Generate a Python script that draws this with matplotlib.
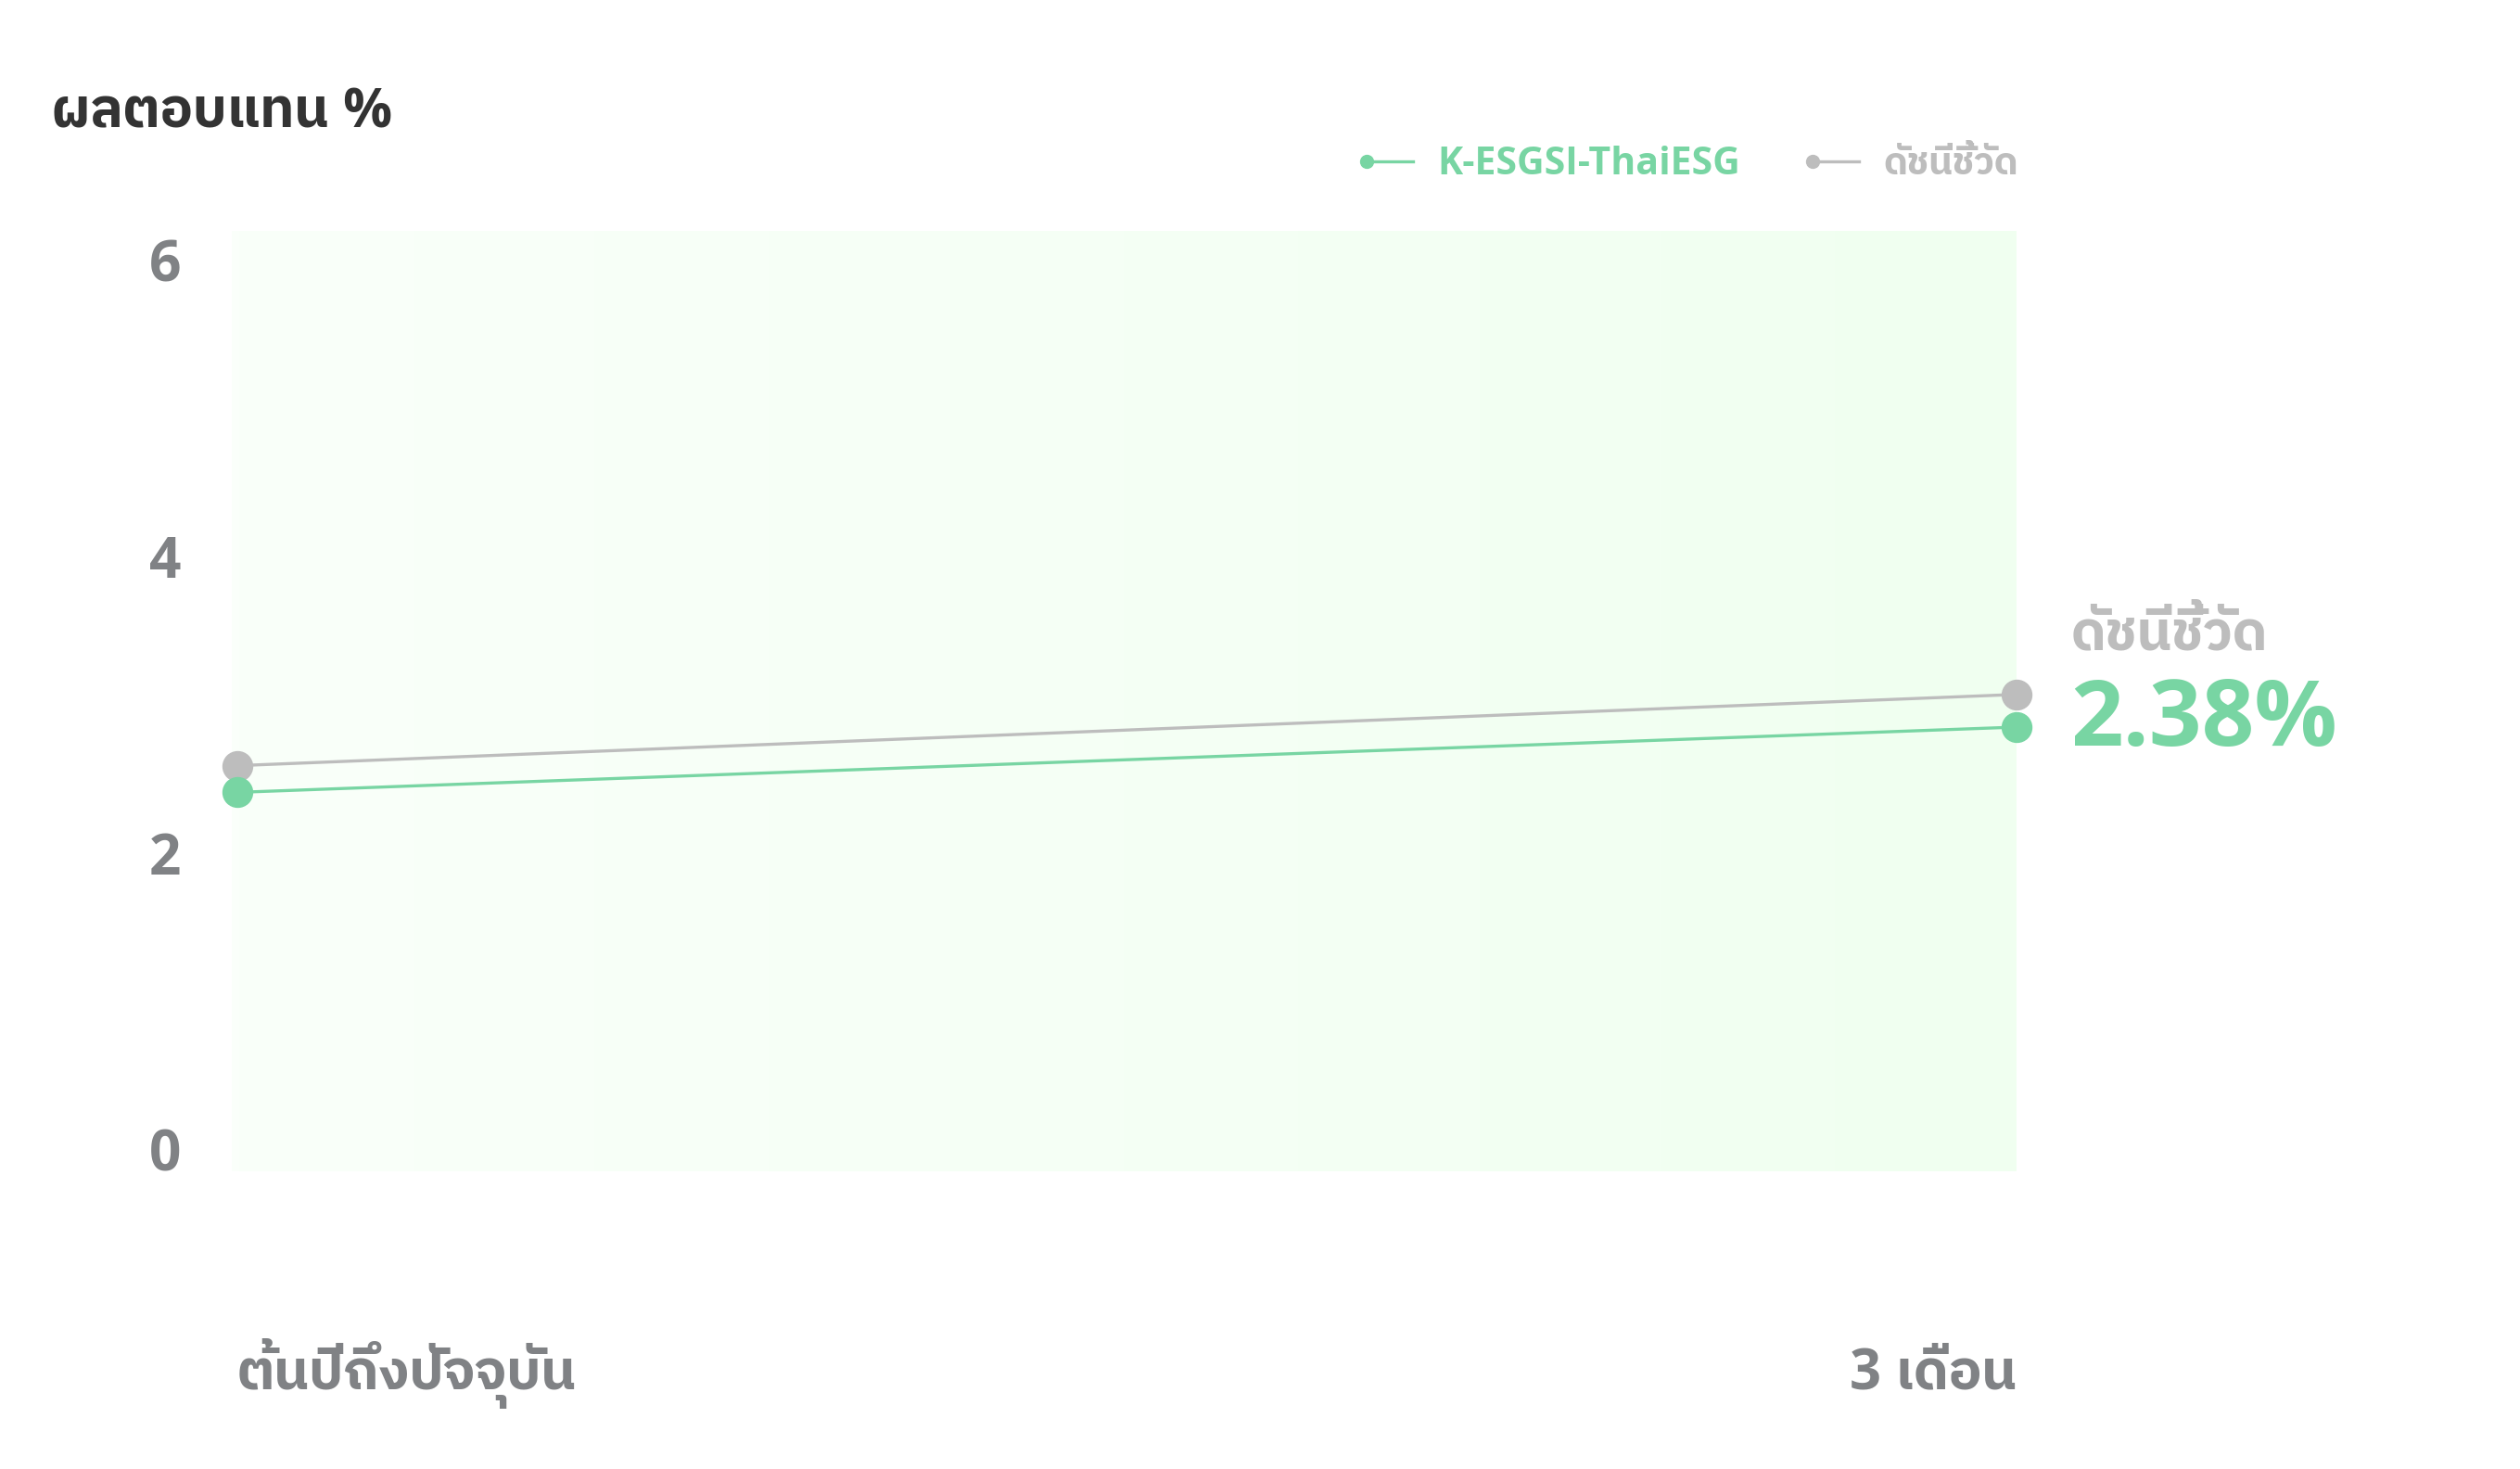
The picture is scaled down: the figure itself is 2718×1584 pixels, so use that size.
import numpy as np
import matplotlib
matplotlib.use("Agg")
import matplotlib.pyplot as plt
from matplotlib import font_manager
from matplotlib.lines import Line2D

W, H = 2718, 1584

periods = ["ต้นปีถึงปัจจุบัน", "3 เดือน"]
fund_returns = [2.41, 2.85]
bench_returns = [2.59, 3.07]
yticks = [0, 2, 4, 6]
fund_name = "K-ESGSI-ThaiESG"
bench_name = "ดัชนีชี้วัด"
title = "ผลตอบแทน %"
highlight = "2.38%"

GREEN = "#78d5a3"
GRAY = "#bdbdbd"
TICK = "#808285"


def pick_bold(candidates):
    # first family that ships a static bold face (variable fonts render as regular)
    for name in candidates:
        for f in font_manager.fontManager.ttflist:
            if (f.name == name and f.style == "normal" and f.weight >= 700
                    and "[" not in f.fname):
                return name
    return None


latin = pick_bold(["Noto Sans", "Open Sans", "Noto Sans Display", "Roboto",
                   "Lato", "Inter"])
thai = pick_bold(["Noto Sans Thai UI", "Noto Sans Thai", "Noto Sans Thai Looped",
                  "IBM Plex Sans Thai", "Sarabun", "Kanit"])
families = [f for f in [latin, thai] if f] + ["DejaVu Sans"]
plt.rcParams["font.family"] = families
plt.rcParams["font.weight"] = "bold"


def px(x, y):
    return x / W, 1 - y / H


fig = plt.figure(figsize=(W / 100, H / 100), dpi=100)
fig.patch.set_facecolor("white")
ax = fig.add_axes([250 / W, 1 - 1263 / H, (2175 - 250) / W, (1263 - 249) / H])

# soft horizontal gradient behind the plot (near white -> honeydew)
grad = np.linspace(0, 1, 256)
left_c = np.array([250, 255, 250]) / 255
right_c = np.array([240, 255, 240]) / 255
img = left_c[None, :] + (right_c - left_c)[None, :] * grad[:, None]
ax.imshow(img[None, :, :], extent=[0, 1, 0, 1], transform=ax.transAxes,
          aspect="auto", zorder=0)

x = np.arange(len(periods))
ax.plot(x, bench_returns, color=GRAY, lw=2.4, marker="o", ms=23,
        zorder=3, clip_on=False)
ax.plot(x, fund_returns, color=GREEN, lw=2.4, marker="o", ms=23,
        zorder=4, clip_on=False)

ax.set_xlim(-0.0031, 1.0)
ax.set_ylim(-0.144, 6.194)

for s in ax.spines.values():
    s.set_visible(False)

ax.set_yticks(yticks)
ax.set_yticklabels([str(v) for v in yticks])
ax.tick_params(axis="y", length=0, pad=39.6, labelsize=43.5, labelcolor=TICK)

ax.set_xticks(x)
ax.set_xticklabels(periods)
ax.tick_params(axis="x", length=0, pad=169, labelsize=43, labelcolor=TICK)
xl = ax.get_xticklabels()
xl[0].set_ha("left")
xl[-1].set_ha("right")
for t in xl:
    t.set_va("baseline")

# end-of-line annotation
ax.annotate(bench_name, xy=(x[-1], bench_returns[-1]), xytext=(42, 35),
            textcoords="offset points", ha="left", va="baseline",
            fontsize=43, color=GRAY, annotation_clip=False)
ax.annotate(highlight, xy=(x[-1], bench_returns[-1]), xytext=(42, -40),
            textcoords="offset points", ha="left", va="baseline",
            fontsize=71.5, color=GREEN, annotation_clip=False)

# title
fig.text(*px(56, 138), title, ha="left", va="baseline", fontsize=42.5,
         color="#333333")

# legend
for x0, name, col in [(1474, fund_name, GREEN), (1955, bench_name, GRAY)]:
    (lx0, ly), (lx1, _) = px(x0, 174), px(x0 + 50, 174)
    fig.add_artist(Line2D([lx0, lx1], [ly, ly], color=col, lw=2.4,
                          marker="o", ms=10, markevery=[0],
                          transform=fig.transFigure))
    fig.text(*px(x0 + 76, 188), name, ha="left", va="baseline",
             fontsize=29.5, color=col)

fig.savefig("out.png", dpi=100)
